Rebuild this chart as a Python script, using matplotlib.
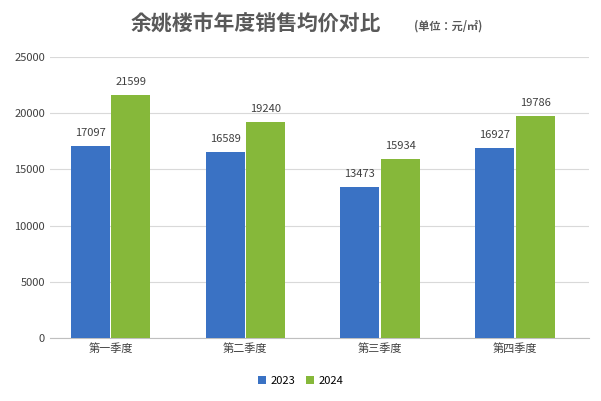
import numpy as np
import matplotlib.pyplot as plt
from matplotlib import font_manager

cjk = sorted({f.name for f in font_manager.fontManager.ttflist if 'Sans CJK' in f.name})
cjk = [n for n in cjk if n.endswith('SC')] + cjk
plt.rcParams['font.family'] = ['DejaVu Sans'] if not cjk else [cjk[0], 'DejaVu Sans']

quarters = ['第一季度', '第二季度', '第三季度', '第四季度']
price_2023 = [17097, 16589, 13473, 16927]
price_2024 = [21599, 19240, 15934, 19786]
yticks = [0, 5000, 10000, 15000, 20000, 25000]

fig = plt.figure(figsize=(6.01, 4.01), dpi=100)
ax = fig.add_axes([0.083, 0.157, 0.897, 0.701])

x = np.arange(len(quarters))
w = 0.29
b1 = ax.bar(x - 0.15, price_2023, w, color='#3a72c4', label='2023', zorder=3)
b2 = ax.bar(x + 0.15, price_2024, w, color='#86b83a', label='2024', zorder=3)
for bars in (b1, b2):
    for r in bars:
        ax.text(r.get_x() + r.get_width() / 2, r.get_height() + 700, str(int(r.get_height())),
                ha='center', va='bottom', fontsize=8, color='#404040')

ax.set_xlim(-0.45, 3.55)
ax.set_ylim(0, 25000)
ax.set_yticks(yticks)
ax.set_xticks(x)
ax.set_xticklabels(quarters)
ax.tick_params(length=0, labelsize=8, colors='#404040')
ax.grid(axis='y', color='#d9d9d9', linewidth=0.8, zorder=0)
for s in ['top', 'right', 'left']:
    ax.spines[s].set_visible(False)
ax.spines['bottom'].set_color('#bfbfbf')

fig.text(0.425, 0.94, '余姚楼市年度销售均价对比', ha='center', va='center',
         fontsize=15, fontweight='bold', color='#595959')
fig.text(0.745, 0.935, '(单位：元/㎡)', ha='center', va='center', fontsize=8,
         fontweight='bold', color='#595959')

fig.legend(handles=[b1, b2], loc='center', bbox_to_anchor=(0.5, 0.05), ncol=2,
           frameon=False, fontsize=8, handlelength=0.7, handleheight=0.7,
           columnspacing=1.0, handletextpad=0.4)

fig.savefig('out.png', dpi=100)
